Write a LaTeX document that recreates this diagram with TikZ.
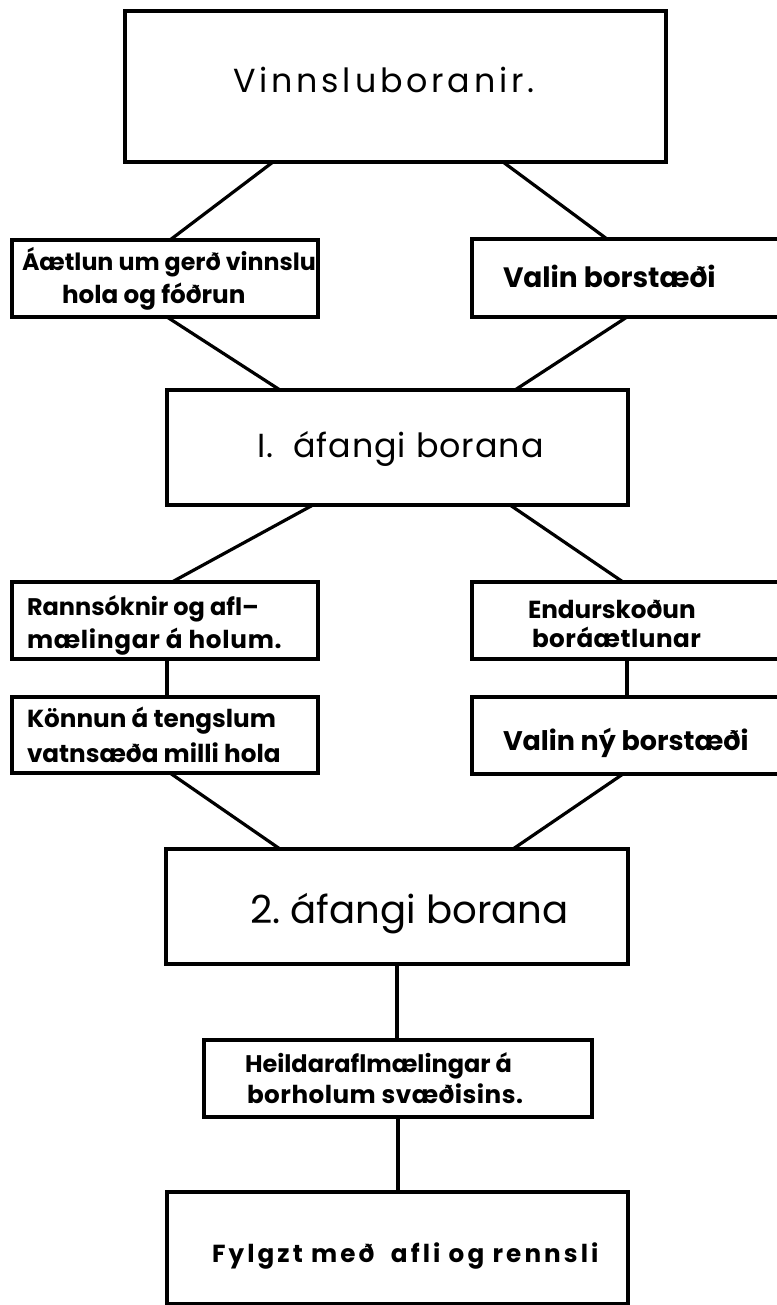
\documentclass[tikz,border=0pt]{standalone}
\usepackage{fontspec}
\setmainfont{Poppins}
\usetikzlibrary{calc}
\begin{document}
\begin{tikzpicture}[x=0.75pt,y=-0.75pt,
  box/.style={draw,line width=2.8pt,rectangle,inner sep=0pt,outer sep=0pt},
  wh/.style n args={2}{minimum width=#1*0.75pt,minimum height=#2*0.75pt},
  conn/.style={line width=2.4pt},
  lbl/.style={anchor=base west,inner sep=0pt,outer sep=0pt},
  big/.style={lbl,font=\fontsize{25}{30}\selectfont},
  mid/.style={lbl,font=\fontsize{21}{26}\selectfont\bfseries},
  small/.style={lbl,font=\fontsize{18.5}{23}\selectfont\bfseries}]
\clip (0,0) rectangle (777,1305);

% boxes
\node[box,wh={541}{151}] (top) at (395.5,86.5) {};
\node[box,wh={306}{77}]  (L1)  at (165,278.5) {};
\node[box,wh={318}{78}]  (R1)  at (631,278) {};
\node[box,wh={461}{115}] (I)   at (397.5,447.5) {};
\node[box,wh={306}{77}]  (L2a) at (165,620.5) {};
\node[box,wh={318}{77}]  (R2a) at (631,620.5) {};
\node[box,wh={306}{76}]  (L2b) at (165,735) {};
\node[box,wh={318}{77}]  (R2b) at (631,735.5) {};
\node[box,wh={462}{115}] (II)  at (397,906.5) {};
\node[box,wh={388}{77}]  (H)   at (398,1078.5) {};
\node[box,wh={461}{112}] (F)   at (397.5,1248) {};

% texts
\node[big]   (t0)  at (233,93)   {\addfontfeature{LetterSpace=11.5}Vinnsluboranir.};
\node[small] (t1a) at (22,270)   {\fontsize{17.8}{22}\selectfont Áætlun um gerð vinnslu};
\node[small] (t1b) at (62,303)   {hola og fóðrun};
\node[mid]   (t2)  at (503,287)  {Valin borstæði};
\node[big]   (t3)  at (257,457)  {\addfontfeature{LetterSpace=3}I.\ \ áfangi borana};
\node[small] (t4a) at (27,615)   {\fontsize{18}{22}\selectfont Rannsóknir og afl–};
\node[small] (t4b) at (27,648)   {\addfontfeature{LetterSpace=3}mælingar á holum.};
\node[small] (t5a) at (27,727)   {Könnun á tengslum};
\node[small] (t5b) at (27,762)   {vatnsæða milli hola};
\node[small] (t6a) at (528,618)  {Endurskoðun};
\node[small] (t6b) at (532,647)  {\addfontfeature{LetterSpace=2}boráætlunar};
\node[mid]   (t7)  at (503,750)  {\fontsize{20.2}{24}\selectfont Valin ný borstæði};
\node[lbl,font=\fontsize{29}{34}\selectfont] (t8) at (250,923) {2.\ áfangi borana};
\node[small] (t9a) at (245,1072) {\fontsize{18}{22}\selectfont Heildaraflmælingar á};
\node[small] (t9b) at (247,1103) {\addfontfeature{LetterSpace=2}borholum svæðisins.};
\node[small] (t10) at (212,1262) {\addfontfeature{LetterSpace=12.5}Fylgzt með\ \ afli og rennsli};

% connectors
\draw[conn] ($(top.south west)+(148,0)$) -- ($(L1.north west)+(158,0)$);
\draw[conn] ($(top.south west)+(378,0)$) -- ($(R1.north west)+(135,0)$);
\draw[conn] ($(L1.south west)+(155,0)$) -- ($(I.north west)+(113,0)$);
\draw[conn] ($(R1.south west)+(155,0)$) -- ($(I.north west)+(348,0)$);
\draw[conn] ($(I.south west)+(146,0)$) -- ($(L2a.north west)+(160,0)$);
\draw[conn] ($(I.south west)+(343,0)$) -- ($(R2a.north west)+(151,0)$);
\draw[conn] ($(L2a.south west)+(155,0)$) -- ($(L2b.north west)+(155,0)$);
\draw[conn] ($(R2a.south west)+(155,0)$) -- ($(R2b.north west)+(155,0)$);
\draw[conn] ($(L2b.south west)+(158,0)$) -- ($(II.north west)+(114,0)$);
\draw[conn] ($(R2b.south west)+(151,0)$) -- ($(II.north west)+(347,0)$);
\draw[conn] (II.south) -- (II.south |- H.north);
\draw[conn] (H.south) -- (H.south |- F.north);
\end{tikzpicture}
\end{document}
